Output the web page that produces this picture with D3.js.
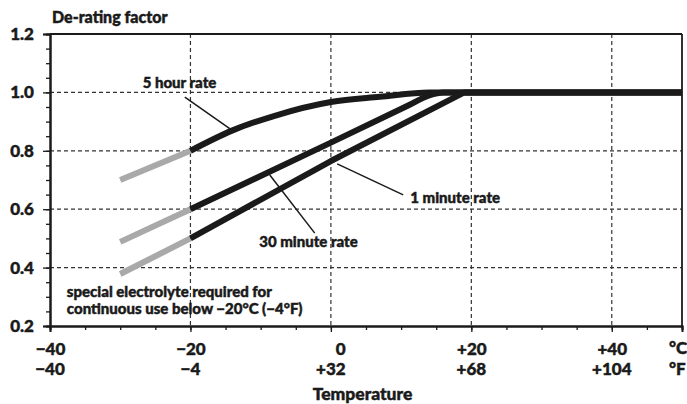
<!DOCTYPE html>
<html>
<head>
<meta charset="utf-8">
<script src="https://cdn.jsdelivr.net/npm/d3@7"></script>
<style>
  html, body { margin: 0; padding: 0; background: #fff; }
  svg { display: block; }
  text { font-family: Lato, "Open Sans", sans-serif; font-weight: 900; fill: #1a1a1a;
         stroke: #1a1a1a; stroke-width: 0.45px; paint-order: stroke; }
</style>
</head>
<body>
<svg id="chart" width="687" height="404"></svg>
<script>
// ---- data ----
const tempTicksC = [-40, -20, 0, 20, 40];
const labelsC = ["\u221240", "\u221220", "0", "+20", "+40"];
const labelsF = ["\u221240", "\u22124", "+32", "+68", "+104"];
const factorTicks = [0.2, 0.4, 0.6, 0.8, 1.0, 1.2];
const gridTemps = [-20, 0, 20, 40];
const gridFactors = [0.4, 0.6, 0.8, 1.0];

// [temperature °C, de-rating factor]
const fiveHourBelow = [[-30, 0.70], [-20, 0.80]];
const fiveHour = [[-20, 0.80], [-14, 0.87], [-8, 0.92], [0, 0.967], [7, 0.985], [14, 1.0], [50, 1.0]];
const thirtyMinBelow = [[-30, 0.488], [-20, 0.60]];
const thirtyMin = [[-20, 0.60], [0, 0.828], [11, 0.955], [14, 0.99], [16, 1.0], [50, 1.0]];
const oneMinBelow = [[-30, 0.378], [-20, 0.50]];
const oneMin = [[-20, 0.50], [0, 0.765], [19, 1.0], [50, 1.0]];

// annotations: label anchor and leader line, in data units
const annotations = [
  { text: "5 hour rate", at: [-26.8, 1.015], from: [-20.8, 0.984], to: [-14.1, 0.871] },
  { text: "30 minute rate", at: [-10.2, 0.471], from: [-2.3, 0.518], to: [-8.7, 0.717] },
  { text: "1 minute rate", at: [11.3, 0.621], from: [10.3, 0.649], to: [0.9, 0.755] }
];
const noteLines = ["special electrolyte required for", "continuous use below \u221220\u00B0C (\u22124\u00B0F)"];

// ---- layout ----
const svg = d3.select("#chart");
const margin = { top: 34, right: 5, bottom: 78, left: 50 };
const W = 687, H = 404;
const iw = W - margin.left - margin.right;
const ih = H - margin.top - margin.bottom;
const g = svg.append("g").attr("transform", `translate(${margin.left},${margin.top})`);

const x = d3.scaleLinear().domain([-40, 50]).range([0, iw]);
const y = d3.scaleLinear().domain([0.2, 1.2]).range([ih, 0]);

// grid
g.append("g").selectAll("line").data(gridFactors).join("line")
  .attr("x1", 0).attr("x2", iw).attr("y1", d => y(d)).attr("y2", d => y(d))
  .attr("stroke", "#333").attr("stroke-width", 1.2).attr("stroke-dasharray", "4,3");
g.append("g").selectAll("line").data(gridTemps).join("line")
  .attr("y1", 0).attr("y2", ih).attr("x1", d => x(d)).attr("x2", d => x(d))
  .attr("stroke", "#333").attr("stroke-width", 1.2).attr("stroke-dasharray", "4,3");

// frame (top and right)
g.append("line").attr("x1", 0).attr("x2", iw).attr("y1", y(1.2)).attr("y2", y(1.2))
  .attr("stroke", "#1a1a1a").attr("stroke-width", 2);
g.append("line").attr("x1", x(50)).attr("x2", x(50)).attr("y1", 0).attr("y2", ih)
  .attr("stroke", "#1a1a1a").attr("stroke-width", 1.8);

// axes
const minorX = g.append("g").attr("transform", `translate(0,${ih})`)
  .call(d3.axisBottom(x).tickValues(d3.range(-40, 51, 5)).tickSize(4).tickFormat(""));
const majorX = g.append("g").attr("transform", `translate(0,${ih})`)
  .call(d3.axisBottom(x).tickValues(tempTicksC).tickSize(6).tickPadding(11)
    .tickFormat((d, i) => labelsC[i]));
const minorY = g.append("g")
  .call(d3.axisLeft(y).tickValues(d3.range(0.2, 1.2001, 0.05)).tickSize(4).tickFormat(""));
const majorY = g.append("g")
  .call(d3.axisLeft(y).tickValues(factorTicks).tickSize(7).tickPadding(9)
    .tickFormat(d3.format(".1f")));

[minorX, majorX, minorY, majorY].forEach(a => {
  a.select(".domain").attr("stroke", "#1a1a1a").attr("stroke-width", 2);
  a.selectAll(".tick line").attr("stroke", "#1a1a1a").attr("stroke-width", 1.3);
  a.selectAll("text").attr("fill", "#1a1a1a").style("font-family", "Lato, sans-serif")
    .style("font-weight", 900).style("font-size", "17px");
});
// unsigned labels sit as if a sign preceded them
majorX.selectAll(".tick text").attr("dx", (d, i) => /^[0-9]/.test(labelsC[i]) ? "0.55em" : 0);

// °F row
g.append("g").selectAll("text").data(tempTicksC).join("text")
  .attr("x", d => x(d)).attr("y", ih + 49)
  .attr("text-anchor", "middle").style("font-size", "17px")
  .text((d, i) => labelsF[i]);
// unit labels
g.append("text").attr("x", x(50) - 13).attr("y", ih + 28).style("font-size", "17px").text("\u00B0C");
g.append("text").attr("x", x(50) - 13).attr("y", ih + 49).style("font-size", "17px").text("\u00B0F");
// axis titles
g.append("text").attr("x", x(4.5)).attr("y", ih + 74).attr("text-anchor", "middle")
  .style("font-size", "17.5px").text("Temperature");
svg.append("text").attr("x", margin.left + 2).attr("y", 23).style("font-size", "16px").text("De-rating factor");

// curves
const smooth = d3.line().x(d => x(d[0])).y(d => y(d[1])).curve(d3.curveMonotoneX);
const straight = d3.line().x(d => x(d[0])).y(d => y(d[1]));
[fiveHourBelow, thirtyMinBelow, oneMinBelow].forEach(s => {
  g.append("path").datum(s).attr("d", straight).attr("fill", "none")
    .attr("stroke", "#a9a9a9").attr("stroke-width", 6);
});
[[fiveHour, smooth], [thirtyMin, smooth], [oneMin, straight]].forEach(([s, gen]) => {
  g.append("path").datum(s).attr("d", gen).attr("fill", "none")
    .attr("stroke", "#1a1a1a").attr("stroke-width", 6).attr("stroke-linejoin", "round");
});

// annotations
annotations.forEach(a => {
  g.append("line")
    .attr("x1", x(a.from[0])).attr("y1", y(a.from[1]))
    .attr("x2", x(a.to[0])).attr("y2", y(a.to[1]))
    .attr("stroke", "#1a1a1a").attr("stroke-width", 1.5);
  g.append("text").attr("x", x(a.at[0])).attr("y", y(a.at[1]))
    .style("font-size", "15px").text(a.text);
});
g.append("g").selectAll("text").data(noteLines).join("text")
  .attr("x", x(-37.6)).attr("y", (d, i) => y(0.299) + i * 17)
  .style("font-size", "15px").text(d => d);
</script>
</body>
</html>
